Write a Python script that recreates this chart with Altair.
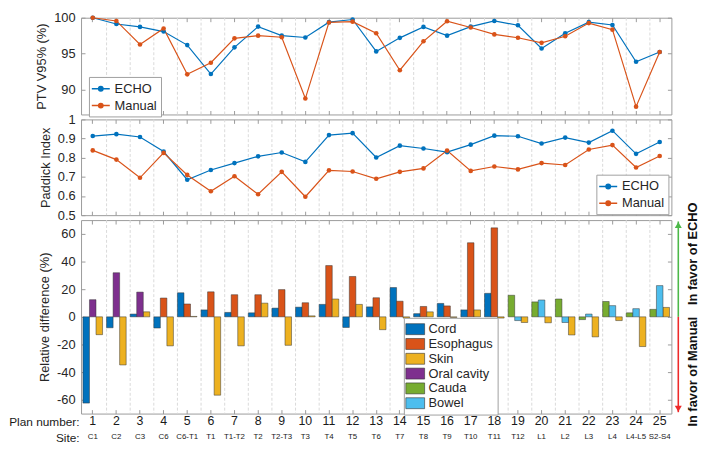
import altair as alt
import pandas as pd

# ---------------- data ----------------
plans = list(range(1, 26))
sites = ["C1", "C2", "C3", "C6", "C6-T1", "T1", "T1-T2", "T2", "T2-T3", "T3", "T4", "T5",
         "T6", "T7", "T8", "T9", "T10", "T11", "T12", "L1", "L2", "L3", "L4", "L4-L5", "S2-S4"]

ptv_echo = [100.0, 99.12, 98.72, 98.07, 96.18, 92.14, 95.87, 98.76, 97.5, 97.24, 99.38, 99.75,
            95.30, 97.19, 98.72, 97.5, 98.76, 99.55, 98.95, 95.70, 97.84, 99.38, 98.99, 93.86, 95.21]
ptv_manual = [100.0, 99.55, 96.26, 98.5, 92.1, 93.72, 97.12, 97.5, 97.28, 88.72, 99.34, 99.45,
              97.84, 92.67, 96.71, 99.51, 98.63, 97.67, 97.2, 96.49, 97.41, 99.25, 98.33, 87.59, 95.21]

pi_echo = [0.913, 0.923, 0.908, 0.832, 0.685, 0.736, 0.772, 0.807, 0.827, 0.778, 0.918, 0.928,
           0.801, 0.863, 0.848, 0.829, 0.868, 0.915, 0.912, 0.874, 0.905, 0.879, 0.941, 0.820, 0.882]
pi_manual = [0.838, 0.790, 0.695, 0.825, 0.710, 0.625, 0.703, 0.609, 0.726, 0.596, 0.734, 0.728,
             0.690, 0.726, 0.744, 0.837, 0.731, 0.754, 0.739, 0.772, 0.762, 0.843, 0.866, 0.749, 0.809]

N = None
cord = [-62.4, -7.9, 2.0, -8.1, 17.4, 5.0, 3.2, 2.9, 6.3, 7.0, 9.0, -7.7, 7.2, 21.2, 2.3, 9.7,
        5.0, 17.0, N, N, N, N, N, N, N]
esophagus = [N, N, N, 13.6, 9.3, 18.1, 16.0, 16.0, 19.7, 10.2, 37.1, 29.2, 13.8, 11.3, 7.5, 7.9,
             53.6, 64.4, N, N, N, N, N, N, N]
skin = [-12.9, -34.8, 3.6, -21.0, 0.3, -56.7, -21.0, 9.9, -20.6, 0.7, 12.9, 9.0, -9.3, -0.9, 3.6,
        -0.5, 5.0, -0.9, -4.1, -4.3, -13.1, -14.5, -2.7, -21.5, 6.8]
oral_cavity = [12.4, 31.9, 17.9] + [N] * 22
cauda = [N] * 18 + [15.6, 10.8, 12.9, -2.0, 11.1, 2.9, 5.4]
bowel = [N] * 18 + [-2.7, 12.2, -4.1, 2.0, 8.1, 5.9, 22.6]

organs = ["Cord", "Esophagus", "Skin", "Oral cavity", "Cauda", "Bowel"]
organ_colors = ["#0072BD", "#D95319", "#EDB120", "#7E2F8E", "#77AC30", "#4DBEEE"]
organ_values = {"Cord": cord, "Esophagus": esophagus, "Skin": skin,
                "Oral cavity": oral_cavity, "Cauda": cauda, "Bowel": bowel}
slot_of = {"Cord": 0, "Cauda": 0, "Esophagus": 1, "Oral cavity": 1, "Bowel": 1, "Skin": 2}

series = ["ECHO", "Manual"]
series_colors = ["#0072BD", "#D95319"]

# ---------------- tables ----------------
df_ptv = pd.DataFrame({"plan": plans * 2, "series": ["ECHO"] * 25 + ["Manual"] * 25,
                       "value": ptv_echo + ptv_manual})
df_pi = pd.DataFrame({"plan": plans * 2, "series": ["ECHO"] * 25 + ["Manual"] * 25,
                      "value": pi_echo + pi_manual})
rows = []
for org in organs:
    for p, v in zip(plans, organ_values[org]):
        if v is not None:
            rows.append({"plan": p, "organ": org, "slot": slot_of[org], "value": v})
df_bar = pd.DataFrame(rows)
df_grid = pd.DataFrame({"plan": plans[1:]})
df_lab = pd.DataFrame({"plan": plans * 2,
                       "row": ["Plan number:"] * 25 + ["Site:"] * 25,
                       "text": [str(p) for p in plans] + sites})

# ---------------- style ----------------
FONT = "Liberation Sans"
W = 598
H1, H2, H3, HL = 98, 97, 196, 22
GRID = "#d9d9d9"
FRAME = "#9a9a9a"
TXT = "#262626"

xscale = alt.Scale(type="band", domain=plans, paddingInner=0.17, paddingOuter=0.08)


def x_ticks(orient):
    return alt.Axis(orient=orient, offset=-4, tickSize=4, domain=False, labels=False,
                    title=None, grid=False, ticks=True, tickColor=FRAME, bandPosition=0.5)


def y_left(title, values, expr=None):
    kw = dict(orient="left", offset=-4, tickSize=4, domain=False, values=values, title=title,
              titlePadding=5, labelPadding=6, labelFontSize=13, titleFontSize=13,
              titleFontWeight="normal", grid=False, tickColor=FRAME, labelColor=TXT,
              titleColor=TXT, labelFont=FONT, titleFont=FONT)
    if expr:
        kw["labelExpr"] = expr
    return alt.Axis(**kw)


def y_right(values):
    return alt.Axis(orient="right", offset=-4, tickSize=4, domain=False, labels=False,
                    ticks=True, values=values, title=None, grid=False, tickColor=FRAME)


line_sym = "M-1.3,0H1.3M0.32,0A0.32,0.32,0,1,1,-0.32,0A0.32,0.32,0,1,1,0.32,0Z"


def series_legend(lx, ly):
    return alt.Legend(title=None, orient="none", legendX=lx, legendY=ly, direction="vertical",
                      symbolType=line_sym, symbolSize=196, symbolStrokeWidth=1.5,
                      labelFontSize=13, labelColor=TXT, labelFont=FONT,
                      strokeColor="#a0a0a0", fillColor="white", padding=4, rowPadding=2,
                      labelOffset=6, cornerRadius=0)


def grid_layer(orient):
    return alt.Chart(df_grid).mark_rule(color=GRID, strokeWidth=1, strokeDash=[3, 2]).encode(
        x=alt.X("plan:O", scale=xscale, bandPosition=0, axis=x_ticks(orient)))


def line_panel(df, height, ydomain, yvalues, ytitle, expr, lx, ly):
    yscale = alt.Scale(domain=ydomain, nice=False, zero=False)
    cscale = alt.Scale(domain=series, range=series_colors)
    leg = series_legend(lx, ly)
    line = alt.Chart(df).mark_line(strokeWidth=1.2).encode(
        x=alt.X("plan:O", scale=xscale, bandPosition=0.5, axis=x_ticks("top")),
        y=alt.Y("value:Q", scale=yscale, axis=y_left(ytitle, yvalues, expr)),
        color=alt.Color("series:N", scale=cscale, legend=leg))
    pts = alt.Chart(df).mark_point(filled=True, size=22, opacity=1).encode(
        x=alt.X("plan:O", scale=xscale, bandPosition=0.5, axis=None),
        y=alt.Y("value:Q", scale=yscale, axis=y_right(yvalues)),
        color=alt.Color("series:N", scale=cscale, legend=leg))
    return alt.layer(grid_layer("bottom"), line, pts).resolve_axis(
        x="independent", y="independent").properties(width=W, height=height)


p1 = line_panel(df_ptv, H1, [86.5, 100], [90, 95, 100], "PTV V95% (%)", None, 8, 60)
p2 = line_panel(df_pi, H2, [0.5, 1.0], [0.5, 0.6, 0.7, 0.8, 0.9, 1.0], "Paddick Index",
                "datum.value == 1 ? '1' : format(datum.value, '.1f')", 522, 56)

# ---------------- bar panel ----------------
y3 = alt.Scale(domain=[-70, 70], nice=False, zero=False)
y3vals = [-60, -40, -20, 0, 20, 40, 60]
bars = alt.Chart(df_bar).mark_bar(stroke="#333333", strokeWidth=0.5).encode(
    x=alt.X("plan:O", scale=xscale, axis=x_ticks("bottom")),
    xOffset=alt.XOffset("slot:O", scale=alt.Scale(domain=[0, 1, 2], paddingInner=0, paddingOuter=0)),
    y=alt.Y("value:Q", scale=y3, axis=y_left("Relative difference (%)", y3vals, "'' + datum.value")),
    color=alt.Color("organ:N", scale=alt.Scale(domain=organs, range=organ_colors),
                    legend=alt.Legend(title=None, orient="none", legendX=327, legendY=99,
                                      direction="vertical",
                                      symbolType="M-1.36,-0.79H1.36V0.79H-1.36Z", symbolSize=196,
                                      symbolStrokeColor="#333333", symbolStrokeWidth=0.6,
                                      labelFontSize=13, labelColor=TXT, labelFont=FONT,
                                      strokeColor="#a0a0a0", fillColor="white", padding=4,
                                      rowPadding=0, labelOffset=6, cornerRadius=0)))

df_arrow = pd.DataFrame({"y0": [0, 0], "y1": [69, -69], "c": ["#4cb848", "#ee2a2a"]})
arrows = alt.Chart(df_arrow).mark_rule(strokeWidth=1.6).encode(
    x=alt.value(W + 7),
    y=alt.Y("y0:Q", scale=y3, axis=y_right(y3vals)),
    y2="y1:Q",
    color=alt.Color("c:N", scale=None))
df_head = pd.DataFrame({"y": [66.5, -66.5], "c": ["#4cb848", "#ee2a2a"],
                        "s": ["triangle-up", "triangle-down"]})
heads = alt.Chart(df_head).mark_point(filled=True, size=50, opacity=1).encode(
    x=alt.value(W + 7),
    y=alt.Y("y:Q", scale=y3, axis=None),
    color=alt.Color("c:N", scale=None),
    shape=alt.Shape("s:N", scale=None))
df_echo = pd.DataFrame({"y": [8.5], "t": ["In favor of ECHO"]})
df_man = pd.DataFrame({"y": [0.0], "t": ["In favor of Manual"]})
t_echo = alt.Chart(df_echo).mark_text(angle=270, align="left", baseline="middle", fontSize=13,
                                      fontWeight="bold", font=FONT, color="#111111").encode(
    x=alt.value(W + 22), y=alt.Y("y:Q", scale=y3, axis=None), text="t:N")
t_man = alt.Chart(df_man).mark_text(angle=270, align="right", baseline="middle", fontSize=13,
                                    fontWeight="bold", font=FONT, color="#111111").encode(
    x=alt.value(W + 22), y=alt.Y("y:Q", scale=y3, axis=None), text="t:N")

p3 = alt.layer(grid_layer("top"), bars, arrows, heads, t_echo, t_man).resolve_axis(
    x="independent", y="independent").properties(width=W, height=H3)

# ---------------- label rows ----------------
yl = alt.Scale(type="point", domain=["Plan number:", "Site:"], padding=0.1875)
pad = "\u00a0" * 14
lab_plan = alt.Chart(df_lab).transform_filter(alt.datum.row == "Plan number:").mark_text(
    fontSize=12.5, font=FONT, color="#1a1a1a", baseline="middle").encode(
    x=alt.X("plan:O", scale=xscale, bandPosition=0.5, axis=None),
    y=alt.Y("row:N", scale=yl,
            axis=alt.Axis(orient="left", domain=False, ticks=False, tickSize=0,
                          labelPadding=2, labelAlign="right", labelFontSize=12,
                          labelFont=FONT, labelColor="#1a1a1a", title=None, grid=False,
                          labelExpr="datum.label == 'Site:' ? 'Site:' + '" + pad + "' : datum.label")),
    text="text:N")
lab_site = alt.Chart(df_lab).transform_filter(alt.datum.row == "Site:").mark_text(
    fontSize=8, font=FONT, color="#1a1a1a", baseline="middle").encode(
    x=alt.X("plan:O", scale=xscale, bandPosition=0.5, axis=None),
    y=alt.Y("row:N", scale=yl, axis=None),
    text="text:N")
labels = alt.layer(lab_plan, lab_site).resolve_axis(y="independent").properties(
    width=W, height=HL, view=alt.ViewBackground(stroke=None))

chart = alt.vconcat(p1, p2, p3, labels, spacing=5, bounds="flush").resolve_scale(
    color="independent").resolve_legend(color="independent").properties(
    padding=0, background="white").configure(font=FONT).configure_view(
    stroke=FRAME, strokeWidth=1)

chart.save("out.html", embed_options={"renderer": "svg", "actions": False})
